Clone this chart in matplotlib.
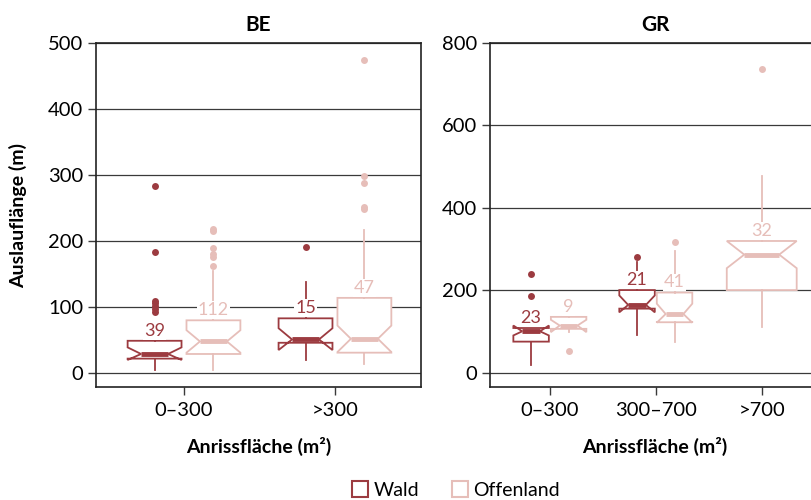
import numpy as np
import matplotlib.pyplot as plt
from matplotlib.lines import Line2D

plt.rcParams['font.family'] = ['Lato', 'DejaVu Sans']

WALD = '#9c3b40'
OFFEN = '#e6beb9'

# BE panel: categories and box statistics (Wald, Offenland)
be_cats = ['0–300', '>300']
be_wald_whislo = [4.5, 20]
be_wald_q1 = [22, 46]
be_wald_cilo = [20, 35]
be_wald_med = [29, 51]
be_wald_cihi = [39, 68]
be_wald_q3 = [49, 83]
be_wald_whishi = [53, 138]
be_wald_fliers = [[284, 184, 110, 106, 101, 97, 92], [191]]
be_wald_n = [39, 15]

be_off_whislo = [5, 14]
be_off_q1 = [29, 31]
be_off_cilo = [31, 32]
be_off_med = [48, 52]
be_off_cihi = [65, 72]
be_off_q3 = [80, 114]
be_off_whishi = [154, 217]
be_off_fliers = [[219, 216, 189, 180, 176, 163], [474, 298, 288, 252, 248]]
be_off_n = [112, 47]

# GR panel
gr_cats = ['0–300', '300–700', '>700']
gr_wald_whislo = [19, 92]
gr_wald_q1 = [76, 156]
gr_wald_cilo = [91, 147]
gr_wald_med = [101, 165]
gr_wald_cihi = [115, 188]
gr_wald_q3 = [109, 201]
gr_wald_whishi = [109, 270]
gr_wald_fliers = [[239, 187], [282]]
gr_wald_n = [23, 21]

gr_off_whislo = [100, 76, 112]
gr_off_q1 = [107, 123, 201]
gr_off_cilo = [99, 122, 254]
gr_off_med = [115, 143, 287]
gr_off_cihi = [129, 168, 320]
gr_off_q3 = [136, 195, 320]
gr_off_whishi = [145, 295, 478]
gr_off_fliers = [[54], [318], [736]]
gr_off_n = [9, 41, 32]


def make_stats(whislo, q1, cilo, med, cihi, q3, whishi, fliers):
    out = []
    for i in range(len(med)):
        out.append(dict(whislo=whislo[i], q1=q1[i], cilo=cilo[i], med=med[i],
                        cihi=cihi[i], q3=q3[i], whishi=whishi[i],
                        fliers=np.array(fliers[i], dtype=float)))
    return out


def draw_boxes(ax, stats, pos, width, color, counts):
    ax.bxp(stats, positions=pos, widths=width, patch_artist=True,
           shownotches=True, showcaps=False, manage_ticks=False,
           boxprops=dict(facecolor='white', edgecolor=color, linewidth=1.3),
           whiskerprops=dict(color=color, linewidth=1.3),
           medianprops=dict(color=color, linewidth=3.5, solid_capstyle='butt'),
           flierprops=dict(marker='o', markerfacecolor=color, markeredgecolor='none',
                           markersize=5))
    for p, s, n in zip(pos, stats, counts):
        ax.annotate(str(n), (p, s['q3']), xytext=(0, 1.5), textcoords='offset points',
                    ha='center', va='bottom', fontsize=13, color=color, zorder=5,
                    bbox=dict(facecolor='white', edgecolor='none', pad=0.6))


def style_axes(ax, title, yticks, ylim, xlim, cats):
    ax.set_ylim(*ylim)
    ax.set_xlim(*xlim)
    ax.set_yticks(yticks)
    ax.set_xticks(np.arange(1, len(cats) + 1))
    ax.set_xticklabels(cats)
    ax.yaxis.grid(True, color='#3a3a3a', linewidth=0.9)
    ax.set_axisbelow(True)
    ax.tick_params(axis='both', direction='out', length=6, width=1,
                   color='#3a3a3a', labelsize=14.5, pad=3)
    ax.tick_params(axis='x', pad=5)
    for sp in ax.spines.values():
        sp.set_linewidth(1.2)
        sp.set_color('#222222')
    ax.set_title(title, fontsize=15, fontweight='bold', pad=9)
    ax.set_xlabel('Anrissfläche (m²)', fontsize=14, fontweight='bold', labelpad=13)


fig = plt.figure(figsize=(8.11, 5), dpi=100)
ax1 = fig.add_axes([96 / 811, 113 / 500, 325 / 811, 344 / 500])
ax2 = fig.add_axes([490 / 811, 113 / 500, 330 / 811, 344 / 500])

# BE
x_be = np.arange(1, len(be_cats) + 1)
be_wald = make_stats(be_wald_whislo, be_wald_q1, be_wald_cilo, be_wald_med,
                     be_wald_cihi, be_wald_q3, be_wald_whishi, be_wald_fliers)
be_off = make_stats(be_off_whislo, be_off_q1, be_off_cilo, be_off_med,
                    be_off_cihi, be_off_q3, be_off_whishi, be_off_fliers)
draw_boxes(ax1, be_wald, x_be - 0.195, 0.357, WALD, be_wald_n)
draw_boxes(ax1, be_off, x_be + 0.195, 0.357, OFFEN, be_off_n)
style_axes(ax1, 'BE', [0, 100, 200, 300, 400, 500], (-21, 500), (0.417, 2.57), be_cats)
ax1.set_ylabel('Auslauflänge (m)', fontsize=14, fontweight='bold', labelpad=15)

# GR
x_gr = np.arange(1, len(gr_cats) + 1)
gr_wald = make_stats(gr_wald_whislo, gr_wald_q1, gr_wald_cilo, gr_wald_med,
                     gr_wald_cihi, gr_wald_q3, gr_wald_whishi, gr_wald_fliers)
gr_off = make_stats(gr_off_whislo, gr_off_q1, gr_off_cilo, gr_off_med,
                    gr_off_cihi, gr_off_q3, gr_off_whishi, gr_off_fliers)
draw_boxes(ax2, gr_wald, x_gr[:2] - 0.177, 0.335, WALD, gr_wald_n)
off_pos = np.array([x_gr[0] + 0.177, x_gr[1] + 0.177, x_gr[2]])
for i in range(3):
    w = 0.66 if i == 2 else 0.335
    draw_boxes(ax2, [gr_off[i]], [off_pos[i]], w, OFFEN, [gr_off_n[i]])
style_axes(ax2, 'GR', [0, 200, 400, 600, 800], (-34, 800), (0.435, 3.55), gr_cats)
ax2.spines['right'].set_visible(False)

handles = [Line2D([], [], linestyle='none', marker='s', markersize=12,
                  markerfacecolor='white', markeredgecolor=c, markeredgewidth=1.5)
           for c in (WALD, OFFEN)]
fig.legend(handles, ['Wald', 'Offenland'], loc='center', ncol=2, frameon=False,
           bbox_to_anchor=(455 / 811, 1 - 490 / 500), fontsize=14,
           handletextpad=0.2, columnspacing=1.6, handlelength=1.0)

fig.savefig('out.png', dpi=100)
